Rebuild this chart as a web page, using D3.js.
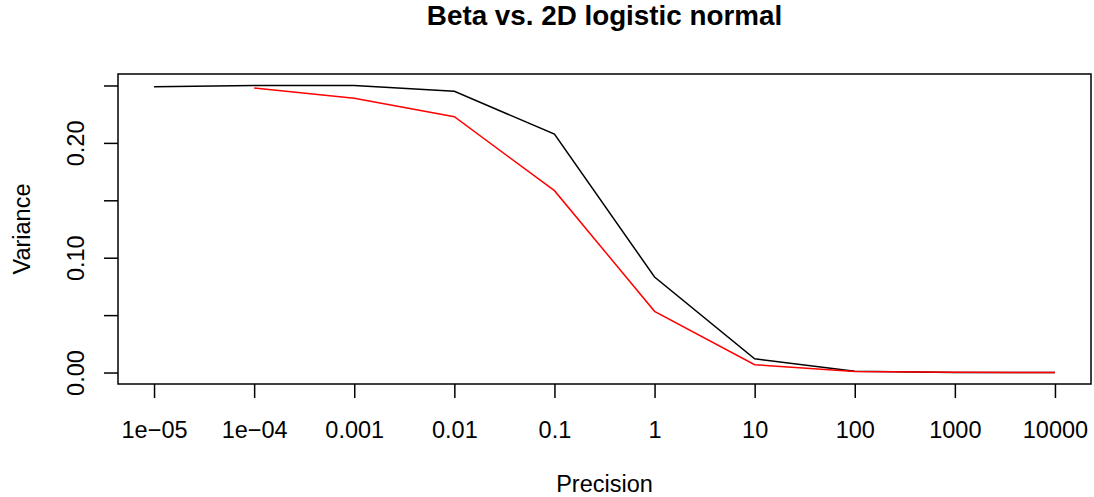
<!DOCTYPE html>
<html>
<head>
<meta charset="utf-8">
<script src="https://cdn.jsdelivr.net/npm/d3@7"></script>
<style>
  html, body { margin: 0; padding: 0; background: #fff; }
  svg { display: block; }
  text { font-family: "Liberation Sans", Arial, sans-serif; fill: #000; }
</style>
</head>
<body>
<div id="chart"></div>
<script>
// ---- data ----
const categories = ["1e\u221205", "1e\u221204", "0.001", "0.01", "0.1", "1", "10", "100", "1000", "10000"];
const betaVariance = [0.2490, 0.2500, 0.2500, 0.2449, 0.2077, 0.0832, 0.0120, 0.0011, 0.0001, 0.00001];
const logisticNormalVariance = [null, 0.2478, 0.2388, 0.2228, 0.1584, 0.0533, 0.0068, 0.0009, 0.0002, 0.0000];
const yTicks = [0, 0.05, 0.10, 0.15, 0.20, 0.25];
const yTickLabels = ["0.00", "", "0.10", "", "0.20", ""];
const title = "Beta vs. 2D logistic normal";
const xLabel = "Precision";
const yLabel = "Variance";

// ---- layout ----
const W = 1094, H = 497;
const plotL = 118, plotR = 1091, plotT = 74, plotB = 384;
const axisFont = 23.5, titleFont = 27.8;

const svg = d3.select("#chart").append("svg").attr("width", W).attr("height", H);

// R-like 4% axis extension
const n = categories.length;
const xs = d3.range(1, n + 1);
const xr = n - 1;
const x = d3.scaleLinear().domain([1 - 0.04 * xr, n + 0.04 * xr]).range([plotL, plotR]);
const ymin = d3.min(betaVariance), ymax = d3.max(betaVariance);
const yr = ymax - ymin;
const y = d3.scaleLinear().domain([ymin - 0.04 * yr, ymax + 0.04 * yr]).range([plotB, plotT]);

// box
svg.append("rect").attr("x", plotL).attr("y", plotT).attr("width", plotR - plotL).attr("height", plotB - plotT)
  .attr("fill", "none").attr("stroke", "#000").attr("stroke-width", 1.5);

// x axis
const xAxis = d3.axisBottom(x).tickValues(xs).tickSize(14).tickPadding(23)
  .tickFormat((d, i) => categories[i]);
const gx = svg.append("g").attr("transform", `translate(0,${plotB})`).call(xAxis);
gx.select(".domain").remove();
gx.selectAll(".tick line").attr("stroke", "#000").attr("stroke-width", 1.5);
gx.selectAll(".tick text").attr("font-size", axisFont).attr("font-family", "Liberation Sans, Arial, sans-serif");

// y axis
const yAxis = d3.axisLeft(y).tickValues(yTicks).tickSize(14).tickPadding(0)
  .tickFormat((d, i) => yTickLabels[i]);
const gy = svg.append("g").attr("transform", `translate(${plotL},0)`).call(yAxis);
gy.select(".domain").remove();
gy.selectAll(".tick line").attr("stroke", "#000").attr("stroke-width", 1.5);
gy.selectAll(".tick text")
  .attr("font-size", axisFont).attr("font-family", "Liberation Sans, Arial, sans-serif")
  .attr("x", null).attr("dy", null)
  .attr("text-anchor", "middle")
  .attr("transform", "translate(-34,0) rotate(-90)");

// lines
const line = d3.line().defined(d => d[1] !== null).x(d => x(d[0])).y(d => y(d[1]));
svg.append("path").datum(xs.map((v, i) => [v, betaVariance[i]]))
  .attr("d", line).attr("fill", "none").attr("stroke", "#000").attr("stroke-width", 1.5);
svg.append("path").datum(xs.map((v, i) => [v, logisticNormalVariance[i]]))
  .attr("d", line).attr("fill", "none").attr("stroke", "#ff0000").attr("stroke-width", 1.5);

// titles
const cx = (plotL + plotR) / 2;
svg.append("text").attr("x", cx).attr("y", 25).attr("text-anchor", "middle")
  .attr("font-size", titleFont).attr("font-weight", "bold").text(title);
svg.append("text").attr("x", cx).attr("y", 492).attr("text-anchor", "middle")
  .attr("font-size", axisFont).text(xLabel);
svg.append("text").attr("transform", `translate(30,${(plotT + plotB) / 2}) rotate(-90)`)
  .attr("text-anchor", "middle").attr("font-size", axisFont).text(yLabel);
</script>
</body>
</html>
